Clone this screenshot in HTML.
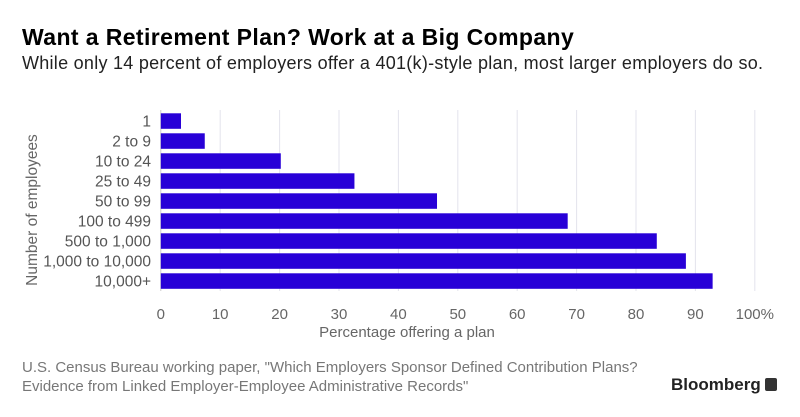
<!DOCTYPE html>
<html><head><meta charset="utf-8"><style>
body{margin:0;width:800px;height:417px;background:#fff;font-family:"Liberation Sans",sans-serif;overflow:hidden;position:relative}
.t{position:absolute;white-space:nowrap}
</style></head><body>
<div class="t" style="left:22px;top:24px;font-size:23px;letter-spacing:0.4px;font-weight:bold;color:#000">Want a Retirement Plan? Work at a Big Company</div>
<div class="t" style="left:22px;top:53px;font-size:18px;letter-spacing:0.27px;color:#222">While only 14 percent of employers offer a 401(k)-style plan, most larger employers do so.</div>
<svg id="chart" width="800" height="417" style="position:absolute;left:0;top:0"></svg>
<div class="t" style="left:22px;top:358px;font-size:15px;color:#777;line-height:19px">U.S. Census Bureau working paper, "Which Employers Sponsor Defined Contribution Plans?<br>Evidence from Linked Employer-Employee Administrative Records"</div>
<div class="t" style="left:671px;top:375px;font-size:17px;font-weight:bold;color:#222">Bloomberg <span style="display:inline-block;width:12px;height:13px;background:#333;border-radius:2px;vertical-align:-1px"></span></div>
<script>
const categories=["1","2 to 9","10 to 24","25 to 49","50 to 99","100 to 499","500 to 1,000","1,000 to 10,000","10,000+"];
const values=[3.4,7.4,20.2,32.6,46.5,68.5,83.5,88.4,92.9];
const ticks=[0,10,20,30,40,50,60,70,80,90,100];
const tickLabels=["0","10","20","30","40","50","60","70","80","90","100%"];
const svg=document.getElementById('chart');const NS='http://www.w3.org/2000/svg';
const x=v=>160.8+v*5.94;const y=i=>113.3+i*20;
function mk(t,a){const e=document.createElementNS(NS,t);for(const k in a)e.setAttribute(k,a[k]);svg.appendChild(e);return e;}
ticks.forEach((t,i)=>{
 const g=mk('line',{x1:x(t),x2:x(t),y1:110,y2:291,stroke:t===0?'#ccc':'#e3e3ec','stroke-width':1});
 
 
 const l=mk('text',{x:x(t),y:319,'text-anchor':'middle','font-size':15,fill:'#666'});l.textContent=tickLabels[i];
 
 
});
categories.forEach((c,i)=>{
 const b=mk('rect',{x:x(0),y:y(i),width:x(values[i])-x(0),height:15.5,fill:'#2800d7'});
 
 
 const l=mk('text',{x:151,y:y(i)+13,'text-anchor':'end','font-size':15.5,fill:'#555'});l.textContent=c;
 
 
});
const xt=mk('text',{x:407,y:337,'text-anchor':'middle','font-size':15,fill:'#666'});xt.textContent='Percentage offering a plan';


const yt=mk('text',{x:0,y:0,'text-anchor':'middle','font-size':15.5,fill:'#666',transform:'translate(37,210) rotate(-90)'});yt.textContent='Number of employees';


</script>
</body></html>
